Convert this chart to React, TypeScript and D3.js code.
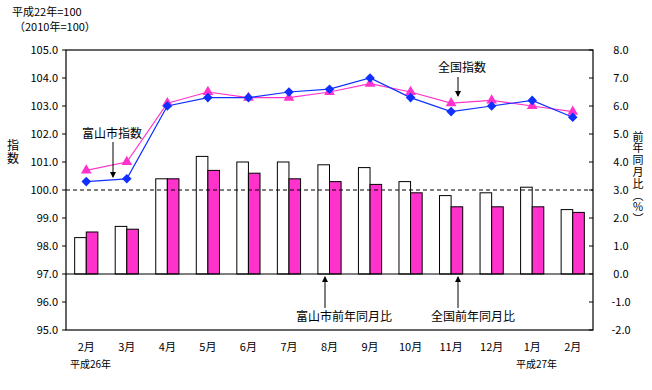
import React from 'react';
import * as d3 from 'd3';

const months = ['2月', '3月', '4月', '5月', '6月', '7月', '8月', '9月', '10月', '11月', '12月', '1月', '2月'];
const toyamaIndex = [100.3, 100.4, 103.0, 103.3, 103.3, 103.5, 103.6, 104.0, 103.3, 102.8, 103.0, 103.2, 102.6];
const nationalIndex = [100.7, 101.0, 103.1, 103.5, 103.3, 103.3, 103.5, 103.8, 103.5, 103.1, 103.2, 103.0, 102.8];
const toyamaYoY = [1.3, 1.7, 3.4, 4.2, 4.0, 4.0, 3.9, 3.8, 3.3, 2.8, 2.9, 3.1, 2.3];
const nationalYoY = [1.5, 1.6, 3.4, 3.7, 3.6, 3.4, 3.3, 3.2, 2.9, 2.4, 2.4, 2.4, 2.2];
const leftTicks = [95, 96, 97, 98, 99, 100, 101, 102, 103, 104, 105];
const rightTicks = [-2, -1, 0, 1, 2, 3, 4, 5, 6, 7, 8];
const leftTitle = '指数';
const rightTitle = '前年同月比（％）';

const FONT = '"Noto Sans CJK JP", "Noto Sans", sans-serif';
const BLUE = '#1030ff';
const PINK = '#ff33cc';

export default function App() {
  const W = 652, H = 390;
  const L = 66, R = 593, T = 50, B = 330;
  const x = d3.scaleBand<number>().domain(months.map((_, i) => i)).range([L, R]).padding(0);
  const yL = d3.scaleLinear().domain([95, 105]).range([B, T]);
  const yR = d3.scaleLinear().domain([-2, 8]).range([B, T]);
  const bw = 11.6;
  const cx = (i: number) => (x(i) as number) + x.bandwidth() / 2;

  const lineGen = d3.line<number>().x((_, i) => cx(i)).y((d) => yL(d));
  const diamond = 'M0,-4.8L4.8,0L0,4.8L-4.8,0Z';
  const tri = d3.symbol().type(d3.symbolTriangle).size(50)();
  const vert = { writingMode: 'vertical-rl', textOrientation: 'mixed' } as any;

  return (
    <svg width={W} height={H} style={{ position: 'absolute', left: 0, top: 0, background: '#fff' }}>
      <defs>
        <marker id="ah" markerWidth="6" markerHeight="8" refX="5" refY="3" orient="auto" markerUnits="userSpaceOnUse">
          <path d="M0,0 L6,3 L0,6 Z" fill="#000" />
        </marker>
      </defs>
      <rect width={W} height={H} fill="#fff" />
      <text x={12} y={16} fontSize={11} fontFamily={FONT}>平成22年=100</text>
      <text x={14} y={31} fontSize={11} fontFamily={FONT}>（2010年=100）</text>

      {/* bars */}
      {toyamaYoY.map((v, i) => (
        <rect key={'tb' + i} x={cx(i) - bw} y={yR(v)} width={bw} height={yR(0) - yR(v)} fill="#fff" stroke="#000" strokeWidth={1} />
      ))}
      {nationalYoY.map((v, i) => (
        <rect key={'nb' + i} x={cx(i)} y={yR(v)} width={bw} height={yR(0) - yR(v)} fill={PINK} stroke="#000" strokeWidth={1} />
      ))}

      {/* dashed 100 line */}
      <line x1={L} x2={R} y1={yL(100)} y2={yL(100)} stroke="#000" strokeDasharray="4,3" strokeWidth={1} />

      {/* frame */}
      <rect x={L} y={T} width={R - L} height={B - T} fill="none" stroke="#000" strokeWidth={1.2} />
      <line x1={L} x2={R} y1={yR(0)} y2={yR(0)} stroke="#000" strokeWidth={1.2} />

      {/* left axis */}
      {leftTicks.map((t) => (
        <g key={'l' + t}>
          <line x1={L - 4} x2={L} y1={yL(t)} y2={yL(t)} stroke="#000" />
          <text x={L - 8} y={yL(t) + 4} fontSize={11} textAnchor="end" fontFamily={FONT}>{t.toFixed(1)}</text>
        </g>
      ))}
      {/* right axis */}
      {rightTicks.map((t) => (
        <g key={'r' + t}>
          <line x1={R - 4} x2={R} y1={yR(t)} y2={yR(t)} stroke="#000" />
          <text x={R + 28} y={yR(t) + 4} fontSize={11} textAnchor="middle" fontFamily={FONT}>{t.toFixed(1)}</text>
        </g>
      ))}

      {/* lines */}
      <path d={lineGen(nationalIndex) as string} fill="none" stroke={PINK} strokeWidth={1.2} />
      <path d={lineGen(toyamaIndex) as string} fill="none" stroke={BLUE} strokeWidth={1.2} />
      {nationalIndex.map((v, i) => (
        <path key={'nt' + i} d={tri as string} transform={`translate(${cx(i)},${yL(v)})`} fill={PINK} />
      ))}
      {toyamaIndex.map((v, i) => (
        <path key={'td' + i} d={diamond} transform={`translate(${cx(i)},${yL(v)})`} fill={BLUE} />
      ))}

      {/* month labels */}
      {months.map((m, i) => (
        <text key={'m' + i} x={cx(i)} y={351} fontSize={11} textAnchor="middle" fontFamily={FONT}>{m}</text>
      ))}
      <text x={70} y={368} fontSize={10} fontFamily={FONT}>平成26年</text>
      <text x={516} y={368} fontSize={10} fontFamily={FONT}>平成27年</text>

      {/* axis titles */}
      <text x={13} y={139} fontSize={12} fontFamily={FONT} letterSpacing={1} style={vert}>{leftTitle}</text>
      <text x={638} y={131} fontSize={11} fontFamily={FONT} letterSpacing={0.8} style={vert}>{rightTitle}</text>

      {/* annotations */}
      <text x={112} y={138} fontSize={12} textAnchor="middle" fontFamily={FONT}>富山市指数</text>
      <line x1={113} x2={113} y1={142} y2={177} stroke="#000" markerEnd="url(#ah)" />
      <text x={462} y={72} fontSize={12} textAnchor="middle" fontFamily={FONT}>全国指数</text>
      <line x1={458} x2={458} y1={77} y2={96} stroke="#000" markerEnd="url(#ah)" />
      <line x1={325} x2={325} y1={308} y2={277} stroke="#000" markerEnd="url(#ah)" />
      <text x={344} y={321} fontSize={12} textAnchor="middle" fontFamily={FONT}>富山市前年同月比</text>
      <line x1={458} x2={458} y1={308} y2={277} stroke="#000" markerEnd="url(#ah)" />
      <text x={473} y={321} fontSize={12} textAnchor="middle" fontFamily={FONT}>全国前年同月比</text>
    </svg>
  );
}
